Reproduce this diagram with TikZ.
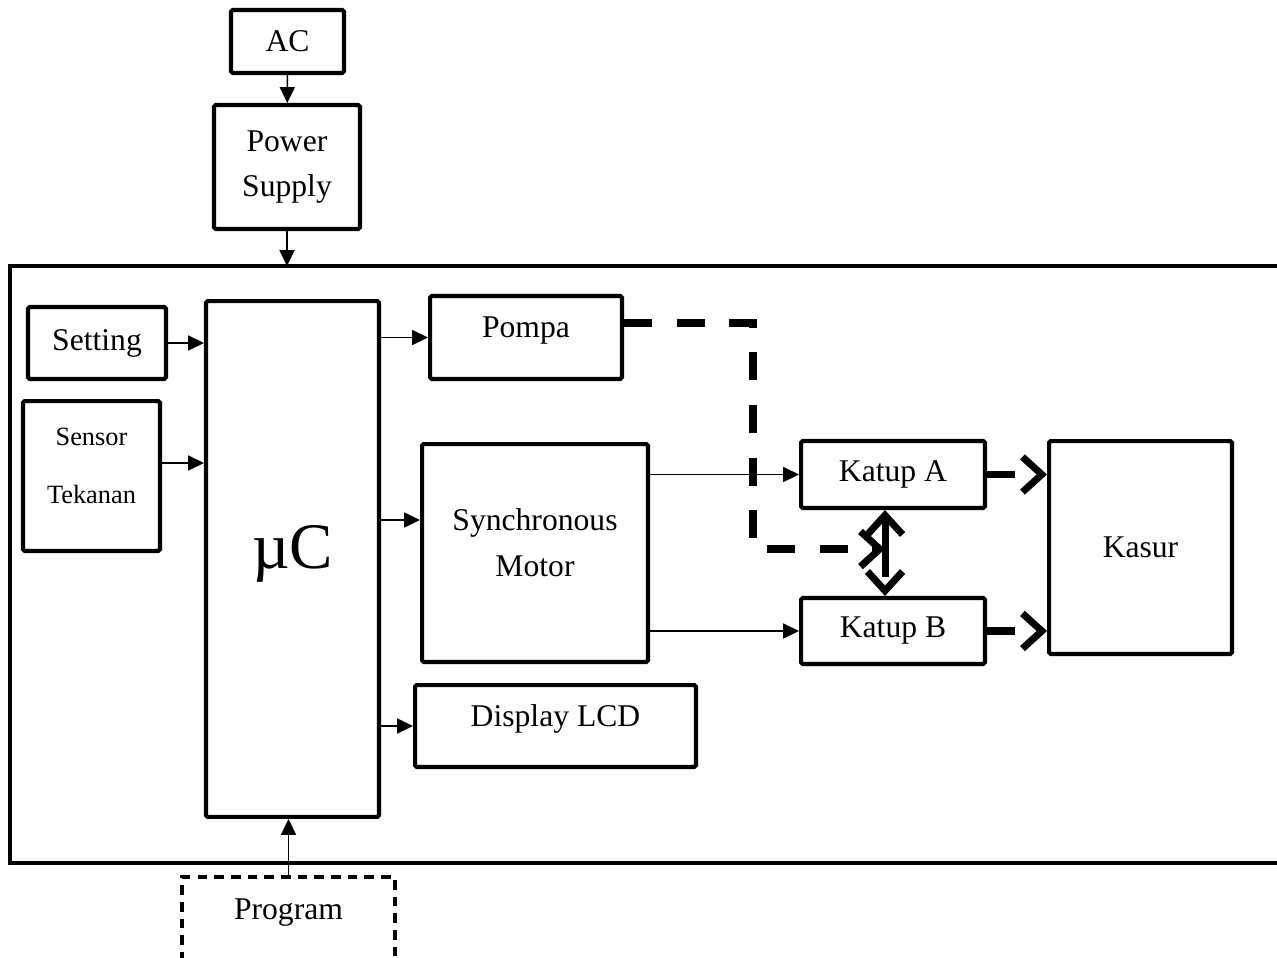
\documentclass[tikz,border=0pt]{standalone}
\usepackage{fontspec}
\setmainfont{Liberation Serif}
\usetikzlibrary{positioning, arrows.meta}

\tikzset{
  blok/.style={draw, line width=2.3pt, rounded corners=1pt, inner sep=0pt, align=center,
    font=\fontsize{18}{26}\selectfont},
  panah/.style={-{Triangle[length=9pt,width=8.5pt]}, line width=0.9pt},
  pipa/.style={-{Straight Barb[length=11pt,width=20pt]}, line width=4pt, dash pattern=on 16pt off 14pt},
}

\begin{document}
\begin{tikzpicture}[x=0.02cm, y=-0.02cm]
\useasboundingbox (0,0) rectangle (1277,957);

% bingkai sistem
\draw[line width=2pt] (1290,266) -- (10,266) -- (10,863) -- (1290,863);

\node[blok, minimum width=2.26cm, minimum height=1.26cm] (ac) at (287.5,41.5) {AC};
\node[blok, minimum width=2.92cm, minimum height=2.48cm] (ps) at (287,167) {Power\\Supply};
\node[blok, minimum width=2.76cm, minimum height=1.44cm] (setting) at (97,343) {Setting};
\node[blok, minimum width=2.74cm, minimum height=3.0cm, font=\fontsize{15}{18}\selectfont] (sensor) at (91.5,476) {Sensor\\[15pt]Tekanan\\[-6pt]\mbox{}};
\node[blok, minimum width=3.46cm, minimum height=10.32cm, font=\fontsize{37}{44}\selectfont] (uc) at (292.5,559) {µC\\[-30pt]\mbox{}};
\node[blok, minimum width=3.84cm, minimum height=1.66cm, text height=12pt, text depth=12pt] (pompa) at (526,337.5) {Pompa};
\node[blok, minimum width=4.52cm, minimum height=4.36cm, font=\fontsize{18}{22}\selectfont] (motor) at (535,553) {Synchronous\\[4pt]Motor\\[-10pt]\mbox{}};
\node[blok, minimum width=5.62cm, minimum height=1.64cm, text height=12pt, text depth=12pt] (lcd) at (555.5,726) {Display LCD};
\node[blok, minimum width=3.68cm, minimum height=1.34cm] (katupA) at (893,474.5) {Katup A};
\node[blok, minimum width=3.68cm, minimum height=1.32cm] (katupB) at (893,631) {Katup B};
\node[blok, minimum width=3.66cm, minimum height=4.26cm] (kasur) at (1140.5,547.5) {Kasur};
\node[blok, dash pattern=on 5.5pt off 4pt, rounded corners=0pt, minimum width=4.26cm, minimum height=2.0cm,
  text height=12pt, text depth=20pt] (program) at (288.5,927) {Program};

\coordinate (masuk) at (287,266);
\coordinate (jalurS) at (0,463);
\coordinate (jalurM) at (0,520);
\coordinate (belok1) at (753,323);
\coordinate (belok2) at (753,549);
\coordinate (simpang) at (885,549);

% sinyal
\draw[panah] (ac) -- (ps);
\draw[panah] (ps) -- (masuk);
\draw[panah] (setting.east) -- (setting.east -| uc.west);
\draw[panah] (sensor.east |- jalurS) -- (uc.west |- jalurS);
\draw[panah] (uc.east |- pompa.west) -- (pompa.west);
\draw[panah] (uc.east |- jalurM) -- (motor.west |- jalurM);
\draw[panah] (uc.east |- lcd.west) -- (lcd.west);
\draw[panah] (motor.east |- katupA.west) -- (katupA.west);
\draw[panah] (motor.east |- katupB.west) -- (katupB.west);
\draw[panah] (program.north) -- (uc.south -| program.north);

% aliran udara
\draw[pipa] (pompa.east |- belok1) -- (belok1) -- (belok2) -- (simpang);
\draw[pipa] (simpang) -- (simpang |- katupA.south);
\draw[pipa] (simpang) -- (simpang |- katupB.north);
\draw[pipa] (katupA.east) -- (katupA.east -| kasur.west);
\draw[pipa] (katupB.east) -- (katupB.east -| kasur.west);
\end{tikzpicture}
\end{document}
